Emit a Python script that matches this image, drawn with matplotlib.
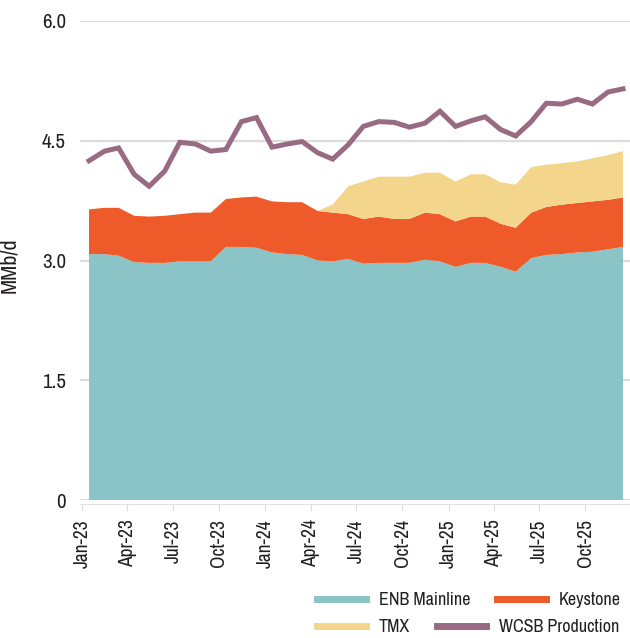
import pandas as pd
import matplotlib
matplotlib.use("Agg")
import matplotlib.pyplot as plt
import matplotlib.dates as mdates
from matplotlib import font_manager

# monthly data, Jan-23 .. Dec-25 (MMb/d)
months = pd.date_range("2023-01-01", periods=36, freq="MS") + pd.Timedelta(days=14)

enb_mainline = [3.08, 3.08, 3.06, 2.98, 2.97, 2.97, 2.99, 2.99, 2.99, 3.17, 3.17, 3.16,
                3.10, 3.08, 3.07, 3.00, 2.99, 3.02, 2.96, 2.97, 2.97, 2.97, 3.01, 2.99,
                2.92, 2.97, 2.97, 2.92, 2.86, 3.03, 3.07, 3.08, 3.10, 3.11, 3.14, 3.17]
keystone = [0.56, 0.58, 0.60, 0.58, 0.58, 0.59, 0.59, 0.61, 0.61, 0.60, 0.62, 0.64,
            0.64, 0.65, 0.66, 0.62, 0.61, 0.56, 0.56, 0.58, 0.55, 0.55, 0.59, 0.59,
            0.57, 0.58, 0.58, 0.54, 0.55, 0.57, 0.60, 0.62, 0.62, 0.63, 0.62, 0.62]
tmx = [0.00, 0.00, 0.00, 0.00, 0.00, 0.00, 0.00, 0.00, 0.00, 0.00, 0.00, 0.00,
       0.00, 0.00, 0.00, 0.00, 0.10, 0.35, 0.47, 0.50, 0.53, 0.53, 0.50, 0.52,
       0.50, 0.53, 0.53, 0.52, 0.54, 0.57, 0.53, 0.52, 0.52, 0.54, 0.56, 0.58]
wcsb_production = [4.25, 4.37, 4.41, 4.08, 3.93, 4.12, 4.48, 4.46, 4.37, 4.39, 4.74, 4.79,
                   4.42, 4.46, 4.49, 4.35, 4.27, 4.45, 4.68, 4.74, 4.73, 4.67, 4.72, 4.87,
                   4.68, 4.75, 4.80, 4.64, 4.56, 4.74, 4.97, 4.96, 5.02, 4.96, 5.11, 5.15]

y_ticks = [0, 1.5, 3.0, 4.5, 6.0]
y_tick_labels = ["0", "1.5", "3.0", "4.5", "6.0"]

colors = {
    "ENB Mainline": "#8ac4c6",
    "Keystone": "#ee5a29",
    "TMX": "#f4d58c",
    "WCSB Production": "#986b82",
}

# look for a narrow face; otherwise Liberation Sans is the slimmest of the rest
narrow = None
for f in font_manager.fontManager.ttflist:
    if "Narrow" in f.name or "Condensed" in f.name:
        narrow = f.name
        break
if narrow:
    plt.rcParams["font.family"] = [narrow, "DejaVu Sans"]
    scale = 1.0
else:
    plt.rcParams["font.family"] = ["Liberation Sans", "DejaVu Sans"]
    scale = 0.86
text_color = "#231f20"

fig = plt.figure(figsize=(6.30, 6.38), dpi=100)
ax = fig.add_axes([80 / 630, 138 / 638, 550 / 630, 479 / 638])

ax.stackplot(months, enb_mainline, keystone, tmx,
             colors=[colors["ENB Mainline"], colors["Keystone"], colors["TMX"]],
             linewidth=0, zorder=2)
ax.plot(months, wcsb_production, color=colors["WCSB Production"], lw=3.6,
        solid_joinstyle="miter", zorder=3)

ax.set_ylim(0, 6.0)
ax.set_yticks(y_ticks)
ax.set_yticklabels(y_tick_labels)
ax.set_xlim(pd.Timestamp("2022-12-28"), pd.Timestamp("2025-12-29"))
ax.xaxis.set_major_locator(mdates.MonthLocator(bymonth=[1, 4, 7, 10]))
ax.xaxis.set_major_formatter(mdates.DateFormatter("%b-%y"))

ax.grid(axis="y", color="#dcdcdc", lw=1.6, zorder=0)
ax.set_axisbelow(True)
for s in ["top", "right", "left"]:
    ax.spines[s].set_visible(False)
ax.spines["bottom"].set_color("#e2e2e2")
ax.spines["bottom"].set_position(("outward", 3))
ax.tick_params(axis="y", length=0, pad=10, labelsize=15 * scale, labelcolor=text_color)
ax.tick_params(axis="x", length=5, color="#dcdcdc", pad=6, labelsize=14 * scale,
               labelcolor=text_color, labelrotation=90)
ax.set_ylabel("MMb/d", fontsize=16 * scale, color=text_color)
ax.yaxis.set_label_coords(-0.11, 0.49)

# legend in two rows, flowing like the original
h_enb = plt.Line2D([], [], color=colors["ENB Mainline"], lw=5)
h_key = plt.Line2D([], [], color=colors["Keystone"], lw=5)
h_tmx = plt.Line2D([], [], color=colors["TMX"], lw=5)
h_wcsb = plt.Line2D([], [], color=colors["WCSB Production"], lw=5)
leg_kw = dict(ncol=2, frameon=False, loc="center left", borderpad=0, borderaxespad=0,
              handlelength=2.7, handletextpad=0.72, columnspacing=1.5,
              fontsize=13 * scale, labelcolor=text_color, bbox_transform=fig.transFigure)
leg1 = fig.legend([h_enb, h_key], ["ENB Mainline", "Keystone"],
                  bbox_to_anchor=(317 / 630, 1 - 600 / 638), **leg_kw)
leg2 = fig.legend([h_tmx, h_wcsb], ["TMX", "WCSB Production"],
                  bbox_to_anchor=(317 / 630, 1 - 627 / 638), **leg_kw)

fig.savefig("out.png", dpi=100)
